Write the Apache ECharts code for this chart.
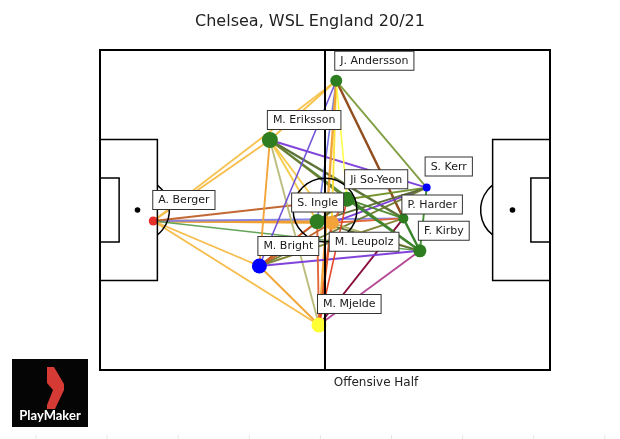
<!DOCTYPE html>
<html>
<head>
<meta charset="utf-8">
<script src="https://cdn.jsdelivr.net/npm/echarts@6/dist/echarts.min.js"></script>
<style>
html,body{margin:0;padding:0;background:#fff}
#main{width:620px;height:439px}
</style>
</head>
<body>
<div id="main"></div>
<script>
// players and average positions (pitch units, 120 x 80, y from top)
const players=['J. Andersson','M. Eriksson','S. Kerr','Ji So-Yeon','P. Harder','S. Ingle','M. Leupolz','F. Kirby','A. Berger','M. Bright','M. Mjelde']
const posX=[63.0,45.3,87.1,65.9,80.9,57.9,61.8,85.3,14.2,42.5,58.4]
const posY=[7.7,22.5,34.4,37.3,42.1,42.9,43.2,50.2,42.75,54.0,68.75]
const nodeColors=['#2e7d20','#2e7d20','#0000ff','#2e7d20','#2e7d20','#2e7d20','#f2a43a','#2e7d20','#e8302a','#0000ff','#ffff33']
const nodeSizes=[12,16,8,15,10,15,14,13,9,15,15]
// label box top-left relative to node centre (px)
const labelOffsets=[[-1,-29],[-2,-29],[-1,-30],[-2,-29],[-1,-23],[-25,-28],[-2,10],[-1,-29],[0,-30],[-1,-29],[-1,-30]]

// passes: [from, to, colour, width]
const edges=[
  [8,1,'#f5b942',1.5],[8,0,'#f5c04a',1.5],[8,5,'#f0a030',2.5],[8,6,'#f0a030',2],
  [8,4,'#8080e8',1.5],[8,3,'#c0602a',1.5],[8,7,'#5ca050',1.2],[8,9,'#f5b942',1.5],
  [8,10,'#f5b942',1.5],
  [1,0,'#f5c040',1.5],[1,2,'#7a3ad8',1.5],[1,4,'#556b2f',2],[1,7,'#4a8a2a',1.5],
  [1,3,'#6b7a30',1.5],[1,9,'#f0a030',1.5],[1,10,'#b8b878',1.5],[1,5,'#f5c842',1.5],
  [1,6,'#f5c842',1.5],
  [0,9,'#6a4ad8',1.2],[0,5,'#7070e0',1.2],[0,6,'#ffe030',1.5],[0,10,'#f0a030',2],
  [0,3,'#ffff40',1.2],[0,4,'#8b4513',2],[0,2,'#7a9a3a',1.5],
  [2,3,'#6b8e23',1.5],[2,6,'#7a3ad8',1.5],[2,7,'#3a8a2a',1.5],[2,5,'#556b2f',1.5],
  [2,9,'#6b7a30',1.5],
  [4,6,'#e06030',1.5],[4,10,'#800030',1.5],[4,7,'#2e7d20',2],[4,9,'#808030',1.5],
  [4,3,'#4a8a2a',1.5],[3,7,'#a03090',1.2],
  [7,9,'#7a3ad8',1.5],[7,10,'#b04090',1.5],[7,3,'#3a8a2a',2],[7,6,'#b0b060',1.5],
  [7,5,'#556b2f',1.5],
  [10,6,'#e05020',2],[10,5,'#e06030',1.5],[10,9,'#f0a030',1.5],[10,3,'#e04020',1.2],
  [9,6,'#c06020',1.5],[9,3,'#6b7a30',1.5],[9,5,'#e05020',1.2],
  [5,3,'#556b2f',1.5],[5,6,'#f0a030',2],[6,3,'#e06030',1.5]
]

const font='DejaVu Sans'
const chart=echarts.init(document.getElementById('main'))

const option={
  animation:false,
  title:{
    text:'Chelsea, WSL England 20/21',
    left:'center',
    top:9,
    textStyle:{fontFamily:font,fontSize:16,fontWeight:'normal',color:'#222'}
  },
  grid:{left:100,top:50,width:450,height:320},
  xAxis:{type:'value',min:0,max:120,show:false},
  yAxis:{type:'value',min:0,max:80,inverse:true,show:false},
  series:[
    {
      type:'lines',
      coordinateSystem:'cartesian2d',
      z:2,
      data:edges.map(e=>({
        coords:[[posX[e[0]],posY[e[0]]],[posX[e[1]],posY[e[1]]]],
        lineStyle:{color:e[2],width:e[3]+0.4,opacity:0.95}
      }))
    },
    {
      type:'scatter',
      z:3,
      itemStyle:{opacity:1},
      data:players.map((n,i)=>({
        name:n,
        value:[posX[i],posY[i]],
        symbolSize:nodeSizes[i],
        itemStyle:{color:nodeColors[i],opacity:1}
      }))
    },
    {
      // labels on top of the pitch lines
      type:'scatter',
      z:10,
      silent:true,
      itemStyle:{color:'rgba(0,0,0,0)',opacity:1},
      label:{
        show:true,
        formatter:'{b}',
        align:'left',
        verticalAlign:'top',
        fontFamily:font,
        fontSize:11,
        color:'#1a1a1a',
        opacity:1,
        backgroundColor:'#fff',
        borderColor:'#333',
        borderWidth:1,
        padding:[4,5,3,5]
      },
      data:players.map((n,i)=>({
        name:n,
        value:[posX[i],posY[i]],
        symbolSize:nodeSizes[i],
        label:{position:[labelOffsets[i][0]+nodeSizes[i]/2,labelOffsets[i][1]+nodeSizes[i]/2]}
      }))
    }
  ]
}
chart.setOption(option)

// pitch markings
const px=(x,y)=>chart.convertToPixel({gridIndex:0},[x,y])
const line={stroke:'#000',lineWidth:1.5,fill:null}
function rect(x0,y0,x1,y1,w){
  const a=px(x0,y0),b=px(x1,y1)
  return {type:'rect',z:5,silent:true,shape:{x:a[0],y:a[1],width:b[0]-a[0],height:b[1]-a[1]},style:Object.assign({},line,{lineWidth:w||1.5})}
}
const g=[]
g.push(rect(0,0,120,80,2))
const h0=px(60,0),h1=px(60,80)
g.push({type:'line',z:5,silent:true,shape:{x1:h0[0],y1:h0[1],x2:h1[0],y2:h1[1]},style:{stroke:'#000',lineWidth:2}})
g.push(rect(0,22.4,15.3,57.6))
g.push(rect(0,32,5.1,48))
g.push(rect(104.7,22.4,120,57.6))
g.push(rect(114.9,32,120,48))
const c=px(60,40)
const r=px(68.5,40)[0]-c[0]
g.push({type:'circle',z:5,silent:true,shape:{cx:c[0],cy:c[1],r:r},style:line})
const sl=px(10,40),sr=px(110,40)
const bl=px(15.3,40)[0],br=px(104.7,40)[0]
const al=Math.acos((bl-sl[0])/r),ar=Math.acos((sr[0]-br)/r)
g.push({type:'arc',z:5,silent:true,shape:{cx:sl[0],cy:sl[1],r:r,startAngle:-al,endAngle:al},style:line})
g.push({type:'arc',z:5,silent:true,shape:{cx:sr[0],cy:sr[1],r:r,startAngle:Math.PI-ar,endAngle:Math.PI+ar},style:line})
g.push({type:'circle',z:5,silent:true,shape:{cx:sl[0],cy:sl[1],r:2.8},style:{fill:'#000'}})
g.push({type:'circle',z:5,silent:true,shape:{cx:sr[0],cy:sr[1],r:2.8},style:{fill:'#000'}})

g.push({type:'text',z:5,silent:true,x:376,y:383,style:{text:'Offensive Half',fontFamily:font,fontSize:12,fill:'#222',align:'center',verticalAlign:'middle'}})

// faint tick marks along the bottom edge
for(let k=0;k<9;k++){
  const tx=36+71.1*k
  g.push({type:'line',z:1,silent:true,shape:{x1:tx,y1:435,x2:tx,y2:439},style:{stroke:'#e4e4e4',lineWidth:1}})
}

// logo
g.push({type:'rect',z:5,silent:true,shape:{x:12,y:359,width:76,height:68},style:{fill:'#050505'}})
g.push({type:'polygon',z:6,silent:true,shape:{points:[[47,367],[54,367],[64,384],[64,390],[55,409],[47,409],[47,405],[53,390],[47,383]]},style:{fill:'#d63a35'}})
g.push({type:'text',z:6,silent:true,x:50,y:416,style:{text:'PlayMaker',fontFamily:'Lato',fontSize:13,fontWeight:'bold',fill:'#fff',align:'center',verticalAlign:'middle'}})

chart.setOption({graphic:g})
</script>
</body>
</html>
